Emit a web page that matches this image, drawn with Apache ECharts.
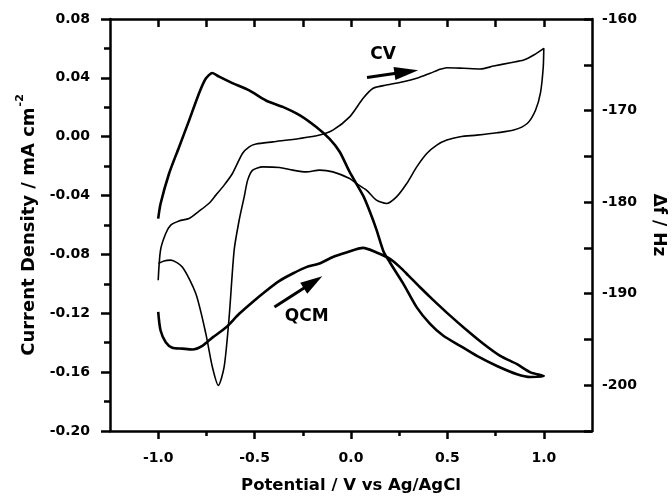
<!DOCTYPE html>
<html>
<head>
<meta charset="utf-8">
<script src="https://cdn.jsdelivr.net/npm/echarts@6.0.0/dist/echarts.min.js"></script>
<style>
    html, body { margin: 0; padding: 0; background: #fff; }
    #chart { width: 672px; height: 496px; }
</style>
</head>
<body>
<div id="chart"></div>
<script>
    // CV loop: potential (V) and current density (mA cm-2)
    const cvPotential = [-1.0, -0.988, -0.961, -0.935, -0.892, -0.84, -0.788, -0.736, -0.701, -0.658,
        -0.615, -0.563, -0.528, -0.493, -0.406, -0.267, -0.163, -0.094, -0.007, 0.063,
        0.115, 0.184, 0.271, 0.341, 0.41, 0.462, 0.497, 0.583, 0.67, 0.74,
        0.827, 0.896, 0.948, 1.0, 0.997, 0.983, 0.957, 0.914, 0.844, 0.757,
        0.653, 0.566, 0.497, 0.445, 0.393, 0.341, 0.289, 0.236, 0.184, 0.132,
        0.08, 0.028, -0.007, -0.094, -0.163, -0.232, -0.302, -0.371, -0.458, -0.51,
        -0.536, -0.554, -0.58, -0.606, -0.632, -0.658, -0.688, -0.719, -0.753, -0.805,
        -0.875, -0.935, -0.97, -1.0];
    const cvCurrent = [-0.0976, -0.0771, -0.0658, -0.0601, -0.0572, -0.0556, -0.0506, -0.0452, -0.0397, -0.0329,
        -0.025, -0.0114, -0.0069, -0.005, -0.0035, -0.0012, 0.0011, 0.0045, 0.0135, 0.0261,
        0.0329, 0.0351, 0.0373, 0.0397, 0.0431, 0.0458, 0.0469, 0.0465, 0.046, 0.048,
        0.0503, 0.0521, 0.0555, 0.0601, 0.047, 0.030, 0.018, 0.009, 0.0045, 0.0027,
        0.0011, 0.0, -0.0023, -0.0057, -0.0114, -0.0205, -0.0318, -0.0409, -0.0454, -0.0431,
        -0.0363, -0.0318, -0.0284, -0.0239, -0.0227, -0.0239, -0.0227, -0.0209, -0.0205, -0.0227,
        -0.0295, -0.0409, -0.0567, -0.0771, -0.1225, -0.1565, -0.169, -0.1565, -0.1338, -0.1066,
        -0.0885, -0.0839, -0.0844, -0.0862];

    // QCM: potential (V) and frequency change (Hz)
    const qcmPotential = [-1.0, -0.988, -0.961, -0.927, -0.875, -0.823, -0.771, -0.719, -0.649, -0.58,
        -0.51, -0.441, -0.371, -0.302, -0.232, -0.163, -0.094, -0.024, 0.063, 0.132,
        0.202, 0.254, 0.297, 0.358, 0.427, 0.514, 0.601, 0.688, 0.774, 0.861,
        0.931, 1.0, 0.931, 0.861, 0.757, 0.653, 0.566, 0.479, 0.41, 0.341,
        0.271, 0.202, 0.167, 0.132, 0.097, 0.063, -0.007, -0.059, -0.111, -0.18,
        -0.267, -0.354, -0.441, -0.528, -0.615, -0.684, -0.719, -0.753, -0.788, -0.84,
        -0.892, -0.944, -0.988, -1.0];
    const qcmFreq = [-192.0, -194.0, -195.3, -195.9, -196.0, -196.1, -195.7, -194.8, -193.7, -192.2,
        -190.9, -189.7, -188.6, -187.8, -187.1, -186.7, -186.0, -185.5, -185.0, -185.5,
        -186.2, -187.1, -188.0, -189.3, -190.7, -192.4, -194.0, -195.5, -196.8, -197.7,
        -198.6, -199.0, -199.1, -198.8, -197.9, -196.8, -195.7, -194.6, -193.3, -191.5,
        -188.9, -186.6, -185.3, -183.0, -181.0, -179.3, -176.7, -174.5, -173.1, -171.8,
        -170.5, -169.6, -168.9, -167.8, -167.0, -166.3, -165.9, -166.5, -168.1, -171.1,
        -174.0, -176.9, -180.2, -181.8];

    // axis ticks
    const xMajorTicks = [-1.0, -0.5, 0.0, 0.5, 1.0];
    const xMinorTicks = [-0.75, -0.25, 0.25, 0.75];
    const freqTicks = [-205, -200, -195, -190, -185, -180, -175, -170, -165, -160];
    const freqLabels = [-200, -190, -180, -170, -160];

    // annotations (data coords on left axis)
    const cvArrow = [[0.083, 0.0403], [0.287, 0.0441]];
    const qcmArrow = [[-0.397, -0.1157], [-0.197, -0.0989]];
    const cvText = [0.166, 0.0555];
    const qcmText = [-0.230, -0.1225];

    const FONT = "DejaVu Sans";
    const zip = (a, b) => a.map((v, i) => [v, b[i]]);

    const chart = echarts.init(document.getElementById("chart"), null, {renderer: "canvas"});

    const lineAxis = {show: true, onZero: false, lineStyle: {color: "#000", width: 2.5}};
    const labelStyle = {color: "#000", fontFamily: FONT, fontWeight: "bold", fontSize: 14};

    let option = {
        animation: false,
        backgroundColor: "#fff",
        grid: {left: 110, right: 80, top: 19, bottom: 65, containLabel: false, outerBoundsMode: "none"},
        xAxis: [
            {
                type: "value", position: "bottom", min: -1.25, max: 1.25,
                axisLine: lineAxis,
                axisTick: {show: true, inside: false, length: 8, customValues: xMajorTicks, lineStyle: {color: "#000", width: 2.5}},
                axisLabel: Object.assign({margin: 20, customValues: xMajorTicks, formatter: v => v.toFixed(1)}, labelStyle),
                splitLine: {show: false},
                name: "Potential / V vs Ag/AgCl", nameLocation: "middle", nameGap: 46,
                nameTextStyle: {color: "#000", fontFamily: FONT, fontWeight: "bold", fontSize: 16.5},
            },
            {
                type: "value", position: "bottom", min: -1.25, max: 1.25,
                axisLine: {show: false, onZero: false},
                axisTick: {show: true, inside: false, length: 5, customValues: xMinorTicks, lineStyle: {color: "#000", width: 2.5}},
                axisLabel: {show: false},
                splitLine: {show: false},
            },
            {
                type: "value", position: "top", min: -1.25, max: 1.25,
                axisLine: lineAxis,
                axisTick: {show: true, inside: true, length: 8, customValues: xMajorTicks.concat(xMinorTicks), lineStyle: {color: "#000", width: 2.5}},
                axisLabel: {show: false},
                splitLine: {show: false},
            },
        ],
        yAxis: [
            {
                type: "value", position: "left", min: -0.2, max: 0.08, interval: 0.04,
                axisLine: lineAxis,
                axisTick: {show: true, inside: false, length: 9, lineStyle: {color: "#000", width: 2.5}},
                minorTick: {show: true, splitNumber: 2, length: 6, lineStyle: {color: "#000", width: 2.5}},
                axisLabel: Object.assign({margin: 20, formatter: v => Math.abs(v) < 1e-9 ? "0.00" : v.toFixed(2)}, labelStyle),
                splitLine: {show: false},
                minorSplitLine: {show: false},
                name: "{a|Current Density / mA cm}{b|-2}", nameLocation: "middle", nameGap: 60,
                nameTextStyle: {
                    color: "#000",
                    rich: {
                        a: {fontFamily: FONT, fontWeight: "bold", fontSize: 18, color: "#000", lineHeight: 24, verticalAlign: "bottom"},
                        b: {fontFamily: FONT, fontWeight: "bold", fontSize: 11, color: "#000", lineHeight: 24, verticalAlign: "top", padding: [0, 0, 10, 1]},
                    },
                },
            },
            {
                type: "value", position: "right", min: -205, max: -160,
                axisLine: lineAxis,
                axisTick: {show: true, inside: true, length: 8, customValues: freqTicks, lineStyle: {color: "#000", width: 2.5}},
                axisLabel: Object.assign({margin: 10, customValues: freqLabels}, labelStyle),
                splitLine: {show: false},
                name: "Δf / Hz", nameLocation: "middle", nameGap: 58, nameRotate: -90,
                nameTextStyle: {color: "#000", fontFamily: FONT, fontWeight: "bold", fontSize: 17},
            },
        ],
        series: [
            {
                name: "CV",
                type: "line",
                xAxisIndex: 0,
                yAxisIndex: 0,
                data: zip(cvPotential, cvCurrent),
                showSymbol: false,
                smooth: 0.25,
                lineStyle: {color: "#000", width: 1.6},
                markLine: {
                    silent: true,
                    symbol: ["none", "triangle"],
                    symbolSize: [13, 24],
                    label: {show: false},
                    lineStyle: {color: "#000", width: 3, type: "solid"},
                    itemStyle: {color: "#000"},
                    data: [
                        [{coord: cvArrow[0]}, {coord: cvArrow[1], symbolSize: [13, 24]}],
                        [{coord: qcmArrow[0]}, {coord: qcmArrow[1], symbolSize: [13, 22]}],
                    ],
                },
                markPoint: {
                    silent: true,
                    symbol: "circle",
                    symbolSize: 1,
                    itemStyle: {color: "rgba(0,0,0,0)"},
                    label: {show: true, position: "inside", formatter: p => p.name, color: "#000", fontFamily: FONT, fontWeight: "bold", fontSize: 17},
                    data: [
                        {name: "CV", coord: cvText},
                        {name: "QCM", coord: qcmText},
                    ],
                },
            },
            {
                name: "QCM",
                type: "line",
                xAxisIndex: 0,
                yAxisIndex: 1,
                data: zip(qcmPotential, qcmFreq),
                showSymbol: false,
                smooth: 0.25,
                lineStyle: {color: "#000", width: 2.6},
            },
        ],
    };
    chart.setOption(option);
</script>
</body>
</html>
